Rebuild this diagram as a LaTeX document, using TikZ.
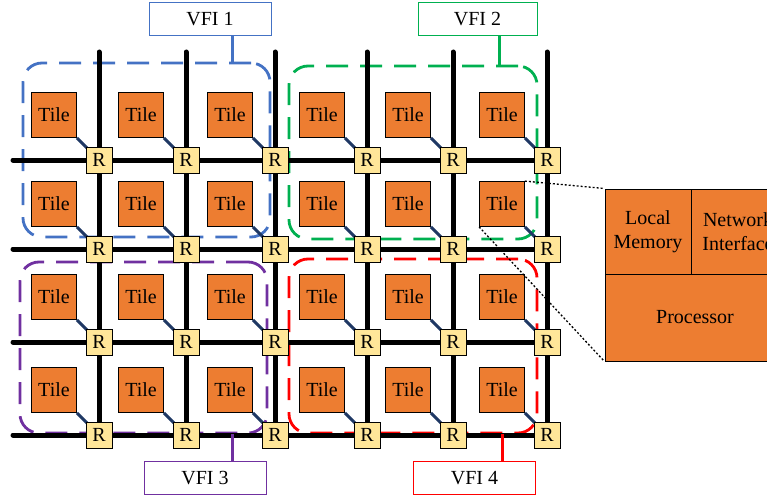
\documentclass[tikz,border=0pt]{standalone}
\usepackage{fontspec}
\setmainfont{Liberation Serif}
\usetikzlibrary{calc,positioning}
\definecolor{tileor}{HTML}{ED7D31}
\definecolor{routery}{HTML}{FFE699}
\definecolor{linknavy}{HTML}{1F3864}
\definecolor{vblue}{HTML}{4472C4}
\definecolor{vgreen}{HTML}{00B050}
\definecolor{vpurple}{HTML}{7030A0}
\definecolor{vred}{HTML}{FF0000}
\begin{document}
\begin{tikzpicture}[x=1pt,y=-1pt,font=\fontsize{20}{24}\selectfont,
  wire/.style={line width=5pt,line cap=round},
  router/.style={draw,fill=routery,minimum size=26pt,inner sep=0pt,line width=0.8pt},
  tile/.style={draw,fill=tileor,minimum size=45pt,inner sep=0pt,line width=0.8pt},
  link/.style={linknavy,line width=3pt},
  zone/.style={draw=#1,dash pattern=on 22pt off 12pt,line width=2.8pt,rounded corners=19pt,inner sep=0pt},
  vfi/.style={draw=#1,fill=white,line width=1pt,minimum width=122pt,minimum height=33pt,inner sep=0pt},
  tie/.style={#1,line width=3pt},
  part/.style={draw,fill=tileor,inner sep=0pt,align=center,line width=1pt}]
\useasboundingbox (0,0) rectangle (767,500);
% voltage/frequency islands
\node[zone=vblue,minimum width=247pt,minimum height=174pt] (z1) at (146.5,150) {};
\node[zone=vgreen,minimum width=248pt,minimum height=173pt] (z2) at (413,152.5) {};
\node[zone=vpurple,minimum width=247pt,minimum height=171pt] (z3) at (143.5,347.5) {};
\node[zone=vred,minimum width=248pt,minimum height=174pt] (z4) at (413,346) {};
% mesh positions
\foreach \x [count=\j] in {99,186,275,367,453,547}{
  \coordinate (top-\j) at (\x,52);
  \foreach \y [count=\i] in {160,249,342,435}
    \coordinate (p-\i-\j) at (\x,\y);
}
\foreach \y [count=\i] in {160,249,342,435}
  \coordinate (lft-\i) at (13,\y);
\foreach \j in {1,...,6} \draw[wire] (top-\j) -- (p-4-\j);
\foreach \i in {1,...,4} \draw[wire] (lft-\i) -- (p-\i-6);
% tiles and routers
\foreach \i in {1,...,4}
  \foreach \j in {1,...,6}{
    \node[tile] (t-\i-\j) at ($(p-\i-\j)+(-45,-45)$) {Tile};
    \draw[link] (t-\i-\j.south east) -- (p-\i-\j);
    \node[router] (r-\i-\j) at (p-\i-\j) {R};
  }
% labels
\node[vfi=vblue] (vfi1) at (210,19) {VFI 1};
\node[vfi=vgreen,minimum width=119pt] (vfi2) at (477.5,19) {VFI 2};
\node[vfi=vpurple] (vfi3) at (205,478) {VFI 3};
\node[vfi=vred] (vfi4) at (474.5,478) {VFI 4};
\coordinate (c1) at ($(vfi1.south)+(22,0)$);
\coordinate (c2) at ($(vfi2.south)+(21.5,0)$);
\coordinate (c3) at ($(vfi3.north)+(27,0)$);
\coordinate (c4) at ($(vfi4.north)+(27.5,0)$);
\draw[tie=vblue] (c1) -- (c1 |- z1.north);
\draw[tie=vgreen] (c2) -- (c2 |- z2.north);
\draw[tie=vpurple] (c3) -- (c3 |- z3.south);
\draw[tie=vred] (c4) -- (c4 |- z4.south);
% tile detail
\node[part,minimum width=86pt,minimum height=85pt] (mem) at (648,231.5) {Local\\Memory};
\node[part,minimum width=94pt,minimum height=85pt] (ni) at (738,231.5) {Network\\Interface};
\node[part,minimum width=180pt,minimum height=87pt] (proc) at (695,317.5) {Processor};
\draw[dash pattern=on 2pt off 2pt,line width=1.3pt] (t-2-6.north east) -- (mem.north west);
\draw[dash pattern=on 2pt off 2pt,line width=1.3pt] (t-2-6.south west) -- (proc.south west);
\end{tikzpicture}
\end{document}
